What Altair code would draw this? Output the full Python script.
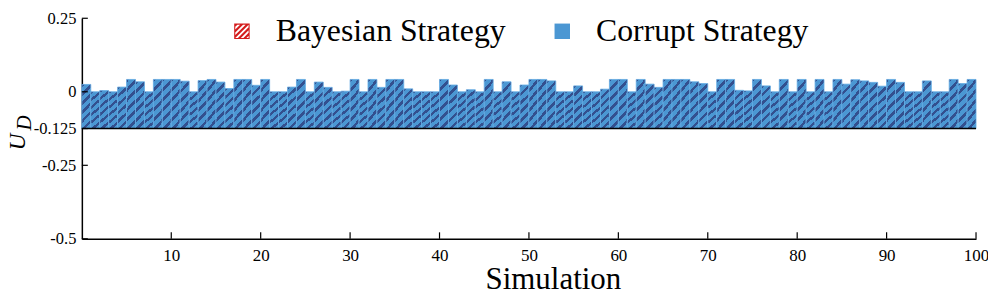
import altair as alt
import pandas as pd

# ---------------- data ----------------
SIM = list(range(1, 101))
CORRUPT_U = [0.025, 0, 0.004, 0, 0.016, 0.042, 0.034, 0, 0.042, 0.042,
             0.042, 0.036, 0, 0.038, 0.042, 0.033, 0.011, 0.042, 0.042, 0.022,
             0.042, 0, 0, 0.016, 0.042, 0, 0.033, 0.015, 0, 0.002,
             0.042, 0, 0.042, 0.015, 0.042, 0.042, 0.010, 0, 0, 0,
             0.042, 0.023, 0, 0.007, 0, 0.042, 0, 0.034, 0, 0.023,
             0.042, 0.042, 0.037, 0, 0, 0.020, 0, 0, 0.009, 0.042,
             0.042, 0, 0.042, 0.026, 0.015, 0.042, 0.042, 0.042, 0.034, 0.028,
             0, 0.042, 0.042, 0.005, 0.003, 0.042, 0.020, 0, 0.042, 0,
             0.042, 0, 0.042, 0, 0.042, 0.026, 0.041, 0.037, 0.032, 0.019,
             0.042, 0.032, 0, 0, 0.037, 0, 0, 0.042, 0.028, 0.042]
BASELINE = -0.125
STRATEGIES = ["Bayesian Strategy", "Corrupt Strategy"]
X_TICKS = [10, 20, 30, 40, 50, 60, 70, 80, 90, 100]
Y_TICKS = [0.25, 0, -0.125, -0.25, -0.5]
X_TITLE = "Simulation"
Y_TITLE_MAIN = "U"
Y_TITLE_SUB = "D"

# ---------------- style ----------------
FONT = "Liberation Serif"
BLUE = "#4b97d3"
BLUE_DARK = "#33508f"
RED = "#d41c1c"

# diagonal hatch for the bars (gradient in bar bounding-box units)
w, h, periods = 8.956, 44.0, 7
S = periods * w
a = w * S / (w * w + h * h)
b = h * S / (w * w + h * h)
dark_frac = 0.40
stops = []
for i in range(periods + 1):
    o0 = i / periods
    o1 = min(1.0, (i + 1 - dark_frac) / periods)
    o2 = min(1.0, (i + 1) / periods)
    if o0 >= 1.0:
        break
    stops += [alt.GradientStop(color=BLUE, offset=o0),
              alt.GradientStop(color=BLUE, offset=o1),
              alt.GradientStop(color=BLUE_DARK, offset=o1),
              alt.GradientStop(color=BLUE_DARK, offset=o2)]
HATCH = alt.LinearGradient(gradient="linear", stops=stops,
                           x1=1, y1=1, x2=1 - a, y2=1 - b)


# hatched square symbol for the legend (SVG path on [-1, 1])
def clip_poly(poly, m):
    def clip_edge(pts, inside, inter):
        out = []
        for i in range(len(pts)):
            cur, prev = pts[i], pts[i - 1]
            ci, pi = inside(cur), inside(prev)
            if ci:
                if not pi:
                    out.append(inter(prev, cur))
                out.append(cur)
            elif pi:
                out.append(inter(prev, cur))
        return out

    def mk(axis, val, keep_less):
        def inside(p):
            return p[axis] <= val if keep_less else p[axis] >= val

        def inter(p, q):
            t = (val - p[axis]) / (q[axis] - p[axis])
            return (p[0] + t * (q[0] - p[0]), p[1] + t * (q[1] - p[1]))
        return inside, inter

    pts = poly
    for axis, val, kl in [(0, m, True), (0, -m, False), (1, m, True), (1, -m, False)]:
        if not pts:
            break
        ins, itr = mk(axis, val, kl)
        pts = clip_edge(pts, ins, itr)
    return pts


def area(p):
    return sum(p[i][0] * p[(i + 1) % len(p)][1] - p[(i + 1) % len(p)][0] * p[i][1]
               for i in range(len(p)))


m = 0.86
parts = ["M-1,-1L1,-1L1,1L-1,1Z", f"M{-m},{-m}L{-m},{m}L{m},{m}L{m},{-m}Z"]
per, bw = 0.72, 0.38
c = -2 * m - 0.1
L = 4
while c < 2 * m:
    c0, c1 = c, c + bw
    poly = [(c0 / 2 - L, c0 / 2 + L), (c0 / 2 + L, c0 / 2 - L),
            (c1 / 2 + L, c1 / 2 - L), (c1 / 2 - L, c1 / 2 + L)]
    pts = clip_poly(poly, m)
    if len(pts) >= 3:
        if area(pts) < 0:
            pts = pts[::-1]
        parts.append("M" + "L".join(f"{x:.3f},{y:.3f}" for x, y in pts) + "Z")
    c += per
HATCH_PATH = "".join(parts)

# ---------------- scales & axes ----------------
XS = alt.Scale(domain=[0, 100], nice=False, zero=False)
YS = alt.Scale(domain=[-0.5, 0.25], nice=False, zero=False)

XAX = alt.Axis(values=X_TICKS, title=X_TITLE, ticks=False, grid=False,
               domainColor="black", domainWidth=1.5,
               labelFont=FONT, labelFontSize=17, labelColor="black",
               labelPadding=9, labelOverlap=False, labelFlush=False,
               titleFont=FONT, titleFontSize=31, titleFontWeight="normal",
               titleColor="black", titleX=472, titleY=50,
               titleBaseline="alphabetic", titleAlign="center")
YAX = alt.Axis(values=Y_TICKS, title=None, ticks=False, grid=False,
               domainColor="black", domainWidth=1.5,
               labelFont=FONT, labelFontSize=16.5, labelColor="black",
               labelPadding=6, labelOverlap=False, labelFlush=False,
               labelExpr="'' + datum.value")

LEG = alt.Legend(orient="none", legendX=144.5, legendY=-3, direction="horizontal",
                 title=None, labelFont=FONT, labelFontSize=31.8, labelColor="black",
                 labelLimit=500, symbolSize=240, symbolStrokeWidth=0,
                 symbolOpacity=1, labelOffset=18, columnPadding=40)

# ---------------- layers ----------------
bars_df = pd.DataFrame({"sim": SIM, "u": CORRUPT_U})
bars = alt.Chart(bars_df).transform_calculate(
    start="datum.sim - 1", base=str(BASELINE)
).mark_bar(fill=HATCH, stroke="#62aae2", strokeWidth=0.8).encode(
    x=alt.X("start:Q", scale=XS, axis=XAX),
    x2="sim:Q",
    y=alt.Y("u:Q", scale=YS, axis=YAX),
    y2="base:Q",
)

base_rule = alt.Chart(pd.DataFrame({"b": [BASELINE]})).mark_rule(
    color="black", strokeWidth=1.5
).encode(y=alt.Y("b:Q", scale=YS, axis=YAX))

x_ticks = alt.Chart(pd.DataFrame({"t": X_TICKS})).mark_rule(
    color="black", strokeWidth=1.2
).encode(x=alt.X("t:Q", scale=XS, axis=XAX), y=alt.value(221), y2=alt.value(214.5))

y_ticks = alt.Chart(pd.DataFrame({"v": Y_TICKS})).mark_rule(
    color="black", strokeWidth=1.2
).encode(y=alt.Y("v:Q", scale=YS, axis=YAX), x=alt.value(0), x2=alt.value(6))

legend_layer = alt.Chart(pd.DataFrame({"strategy": STRATEGIES})).transform_filter(
    "false"
).mark_point(filled=True).encode(
    color=alt.Color("strategy:N", scale=alt.Scale(domain=STRATEGIES, range=[RED, BLUE]),
                    legend=LEG),
    shape=alt.Shape("strategy:N", scale=alt.Scale(domain=STRATEGIES,
                                                  range=[HATCH_PATH, "square"]),
                    legend=LEG),
)

title_df = pd.DataFrame({"k": [0]})
t_main = alt.Chart(title_df).mark_text(
    text=Y_TITLE_MAIN, font=FONT, fontStyle="italic", fontSize=23, angle=270,
    align="center", baseline="middle", color="black"
).encode(x=alt.value(-64), y=alt.value(124))
t_sub = alt.Chart(title_df).mark_text(
    text=Y_TITLE_SUB, font=FONT, fontStyle="italic", fontSize=21, angle=270,
    align="center", baseline="middle", color="black"
).encode(x=alt.value(-57), y=alt.value(105))

chart = alt.layer(bars, base_rule, x_ticks, y_ticks, legend_layer, t_main, t_sub).properties(
    width=896, height=221,
    padding={"left": 74, "top": 10, "right": 12, "bottom": 56},
    autosize=alt.AutoSizeParams(type="none"),
    background="white",
).configure_view(stroke=None)

chart.save("out.html", embed_options={"renderer": "svg", "actions": False})
